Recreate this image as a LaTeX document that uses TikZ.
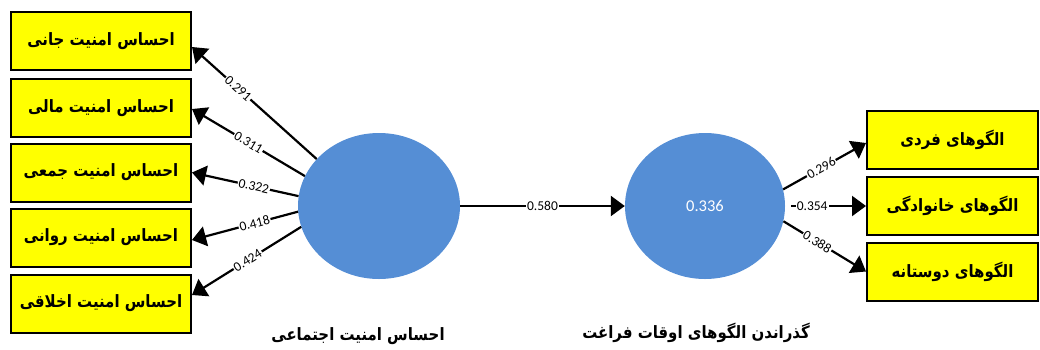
\documentclass[tikz,border=0pt]{standalone}
\usepackage{fontspec}
\setmainfont{Carlito}
\newfontfamily\arabicfont[Script=Arabic, FakeStretch=0.88]{DejaVu Sans}
\TeXXeTstate=1
\usetikzlibrary{shapes.geometric,arrows.meta,calc}
\definecolor{circblue}{HTML}{558ED5}
\definecolor{boxyellow}{HTML}{FFFF00}
\begin{document}
\begin{tikzpicture}[x=1pt,y=-1pt,
 indbox/.style={draw=black, line width=2pt, fill=boxyellow, minimum width=180pt, minimum height=58pt, inner sep=0pt, font=\arabicfont\bfseries\fontsize{17}{19}\selectfont},
 latent/.style={ellipse, fill=circblue, minimum width=162pt, minimum height=146pt, inner sep=0pt, text=white, font=\fontsize{16.5}{18}\selectfont},
 link/.style={line width=2.2pt, -{Triangle[length=14pt,width=20pt]}},
 wlab/.style={fill=white, inner sep=1pt, font=\fontsize{13.5}{15}\selectfont, sloped},
 title/.style={font=\arabicfont\bfseries\fontsize{17}{19}\selectfont}
]
\useasboundingbox (0,0) rectangle (1040,349);
% left indicator boxes
\node[indbox] (b1) at (101,41) {\beginR احساس امنیت جانی\endR};
\node[indbox] (b2) at (101,108) {\beginR احساس امنیت مالی\endR};
\node[indbox] (b3) at (101,172.5) {\beginR احساس امنیت جمعی\endR};
\node[indbox] (b4) at (101,237.5) {\beginR احساس امنیت روانی\endR};
\node[indbox] (b5) at (101,303.5) {\beginR احساس امنیت اخلاقی\endR};
% right indicator boxes
\node[indbox, minimum width=171pt] (r1) at (952.5,139.5) {\beginR الگوهای فردی\endR};
\node[indbox, minimum width=171pt] (r2) at (952.5,206) {\beginR الگوهای خانوادگی\endR};
\node[indbox, minimum width=171pt] (r3) at (952.5,271.5) {\beginR الگوهای دوستانه\endR};
% latent variables
\node[latent] (c1) at (379,206) {};
\node[latent, minimum width=160pt] (c2) at (705,206) {0.336};
% outer loadings, left
\draw[link] (c1.143) -- node[wlab, pos=0.63]{0.291} ([yshift=-6pt]b1.east);
\draw[link] (c1.158.6) -- node[wlab, pos=0.5]{0.311} ([yshift=-1pt]b2.east);
\draw[link] (c1.173.5) -- node[wlab, pos=0.42]{0.322} (b3.east);
\draw[link] (c1.184.5) -- node[wlab, pos=0.41]{0.418} ([yshift=-2.5pt]b4.east);
\draw[link] (c1.195.8) -- node[wlab, pos=0.49]{0.424} ([yshift=8.5pt]b5.east);
% path
\draw[link] (c1.east) -- node[wlab, pos=0.5]{0.580} (c2.west);
% outer loadings, right
\draw[link] (c2.12.7) -- node[wlab, pos=0.46]{0.296} ([yshift=-3.5pt]r1.west);
\draw[link] ([xshift=6pt]c2.east) -- node[wlab, pos=0.28]{0.354} (r2.west);
\draw[link] (c2.-11.3) -- node[wlab, pos=0.41]{0.388} (r3.west);
% titles
\node[title] (t1) at (358,336) {\beginR احساس امنیت اجتماعی\endR};
\node[title] (t2) at (696,333) {\beginR گذراندن الگوهای اوقات فراغت\endR};
\end{tikzpicture}
\end{document}
